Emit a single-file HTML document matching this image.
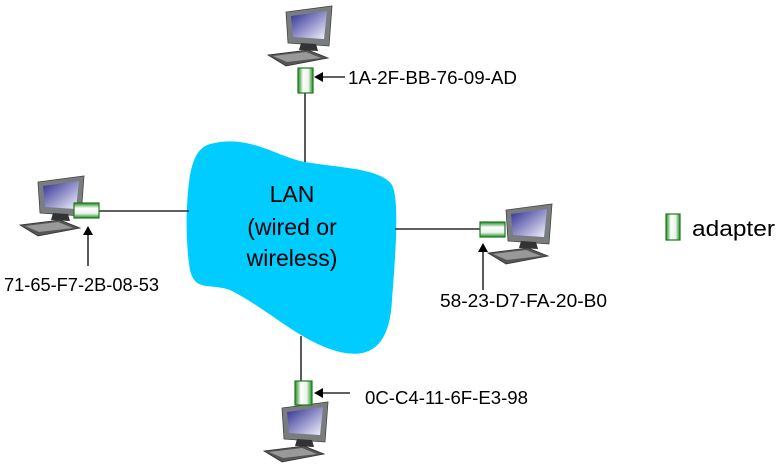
<!DOCTYPE html>
<html><head><style>body{margin:0;background:#fff}svg{display:block}text{font-family:"Liberation Sans",sans-serif;fill:#000}</style></head><body>
<svg width="781" height="471" viewBox="0 0 781 471" xmlns="http://www.w3.org/2000/svg">
<defs>
<linearGradient id="scr" x1="0" y1="0" x2="1" y2="1"><stop offset="0" stop-color="#2a2a90"/><stop offset="1" stop-color="#f4f4ff"/></linearGradient>
<linearGradient id="adH" x1="0" y1="0" x2="0" y2="1"><stop offset="0" stop-color="#1d8a1d"/><stop offset=".35" stop-color="#fff"/><stop offset=".7" stop-color="#e8f4e8"/><stop offset="1" stop-color="#1d8a1d"/></linearGradient>
<linearGradient id="adV" x1="0" y1="0" x2="1" y2="0"><stop offset="0" stop-color="#1d8a1d"/><stop offset=".35" stop-color="#fff"/><stop offset=".7" stop-color="#e8f4e8"/><stop offset="1" stop-color="#1d8a1d"/></linearGradient>
<g id="pc">
<polygon points="20,6 66,0 63,40 22,37" fill="#7a7d80" stroke="#444" stroke-width="0.8"/>
<polygon points="25,10 61,5 58,33 27,31" fill="url(#scr)"/>
<polygon points="35,37 50,38 52,45 33,44" fill="#333"/>
<polygon points="2,49 42,44 62,52 20,60" fill="#555" stroke="#333" stroke-width="0.8"/>
<polygon points="7,50 40,46 55,52 21,56" fill="#999"/>
</g>
</defs>
<path d="M215,143 C250,135 280,158 305,162 C340,168 380,168 392,185 C400,200 395,260 392,300 C390,340 375,360 340,352 C300,342 270,310 230,290 C210,283 195,292 190,270 C185,240 186,200 190,175 C194,155 200,145 215,143 Z" fill="#00ccff"/>
<text x="292" y="202" font-size="23" text-anchor="middle">LAN</text>
<text x="292" y="235" font-size="23" text-anchor="middle">(wired or</text>
<text x="292" y="266" font-size="23" text-anchor="middle">wireless)</text>
<g stroke="#000" stroke-width="1.3">
<line x1="305" y1="93" x2="305" y2="162"/>
<line x1="99" y1="211" x2="189" y2="211"/>
<line x1="395" y1="229" x2="480" y2="229"/>
<line x1="301" y1="336" x2="301" y2="381"/>
<line x1="345" y1="77" x2="322" y2="77"/>
<line x1="88" y1="266" x2="88" y2="234"/>
<line x1="483" y1="290" x2="483" y2="251"/>
<line x1="350" y1="393" x2="322" y2="393"/>
</g>
<g fill="#000">
<polygon points="314,77 323,72 323,82"/>
<polygon points="88,226 83,235 93,235"/>
<polygon points="483,243 478,252 488,252"/>
<polygon points="314,393 323,388 323,398"/>
</g>
<use href="#pc" x="266" y="6"/>
<use href="#pc" x="18" y="176"/>
<use href="#pc" x="486" y="204"/>
<use href="#pc" x="262" y="402"/>
<rect x="298" y="68" width="15" height="25" fill="url(#adV)" stroke="#1d7a1d" stroke-width="1.2"/>
<rect x="74" y="203" width="25" height="15" fill="url(#adH)" stroke="#1d7a1d" stroke-width="1.2"/>
<rect x="480" y="222" width="25" height="15" fill="url(#adH)" stroke="#1d7a1d" stroke-width="1.2"/>
<rect x="295" y="381" width="17" height="24" fill="url(#adV)" stroke="#1d7a1d" stroke-width="1.2"/>
<rect x="666" y="214" width="14" height="26" fill="url(#adV)" stroke="#1d7a1d" stroke-width="1.2"/>
<text x="692" y="236" font-size="22" textLength="83" lengthAdjust="spacingAndGlyphs">adapter</text>
<text x="348" y="84" font-size="18" textLength="169" lengthAdjust="spacingAndGlyphs">1A-2F-BB-76-09-AD</text>
<text x="4" y="291" font-size="18" textLength="155" lengthAdjust="spacingAndGlyphs">71-65-F7-2B-08-53</text>
<text x="440" y="307" font-size="18" textLength="167" lengthAdjust="spacingAndGlyphs">58-23-D7-FA-20-B0</text>
<text x="365" y="404" font-size="18" textLength="163" lengthAdjust="spacingAndGlyphs">0C-C4-11-6F-E3-98</text>
</svg>
</body></html>
